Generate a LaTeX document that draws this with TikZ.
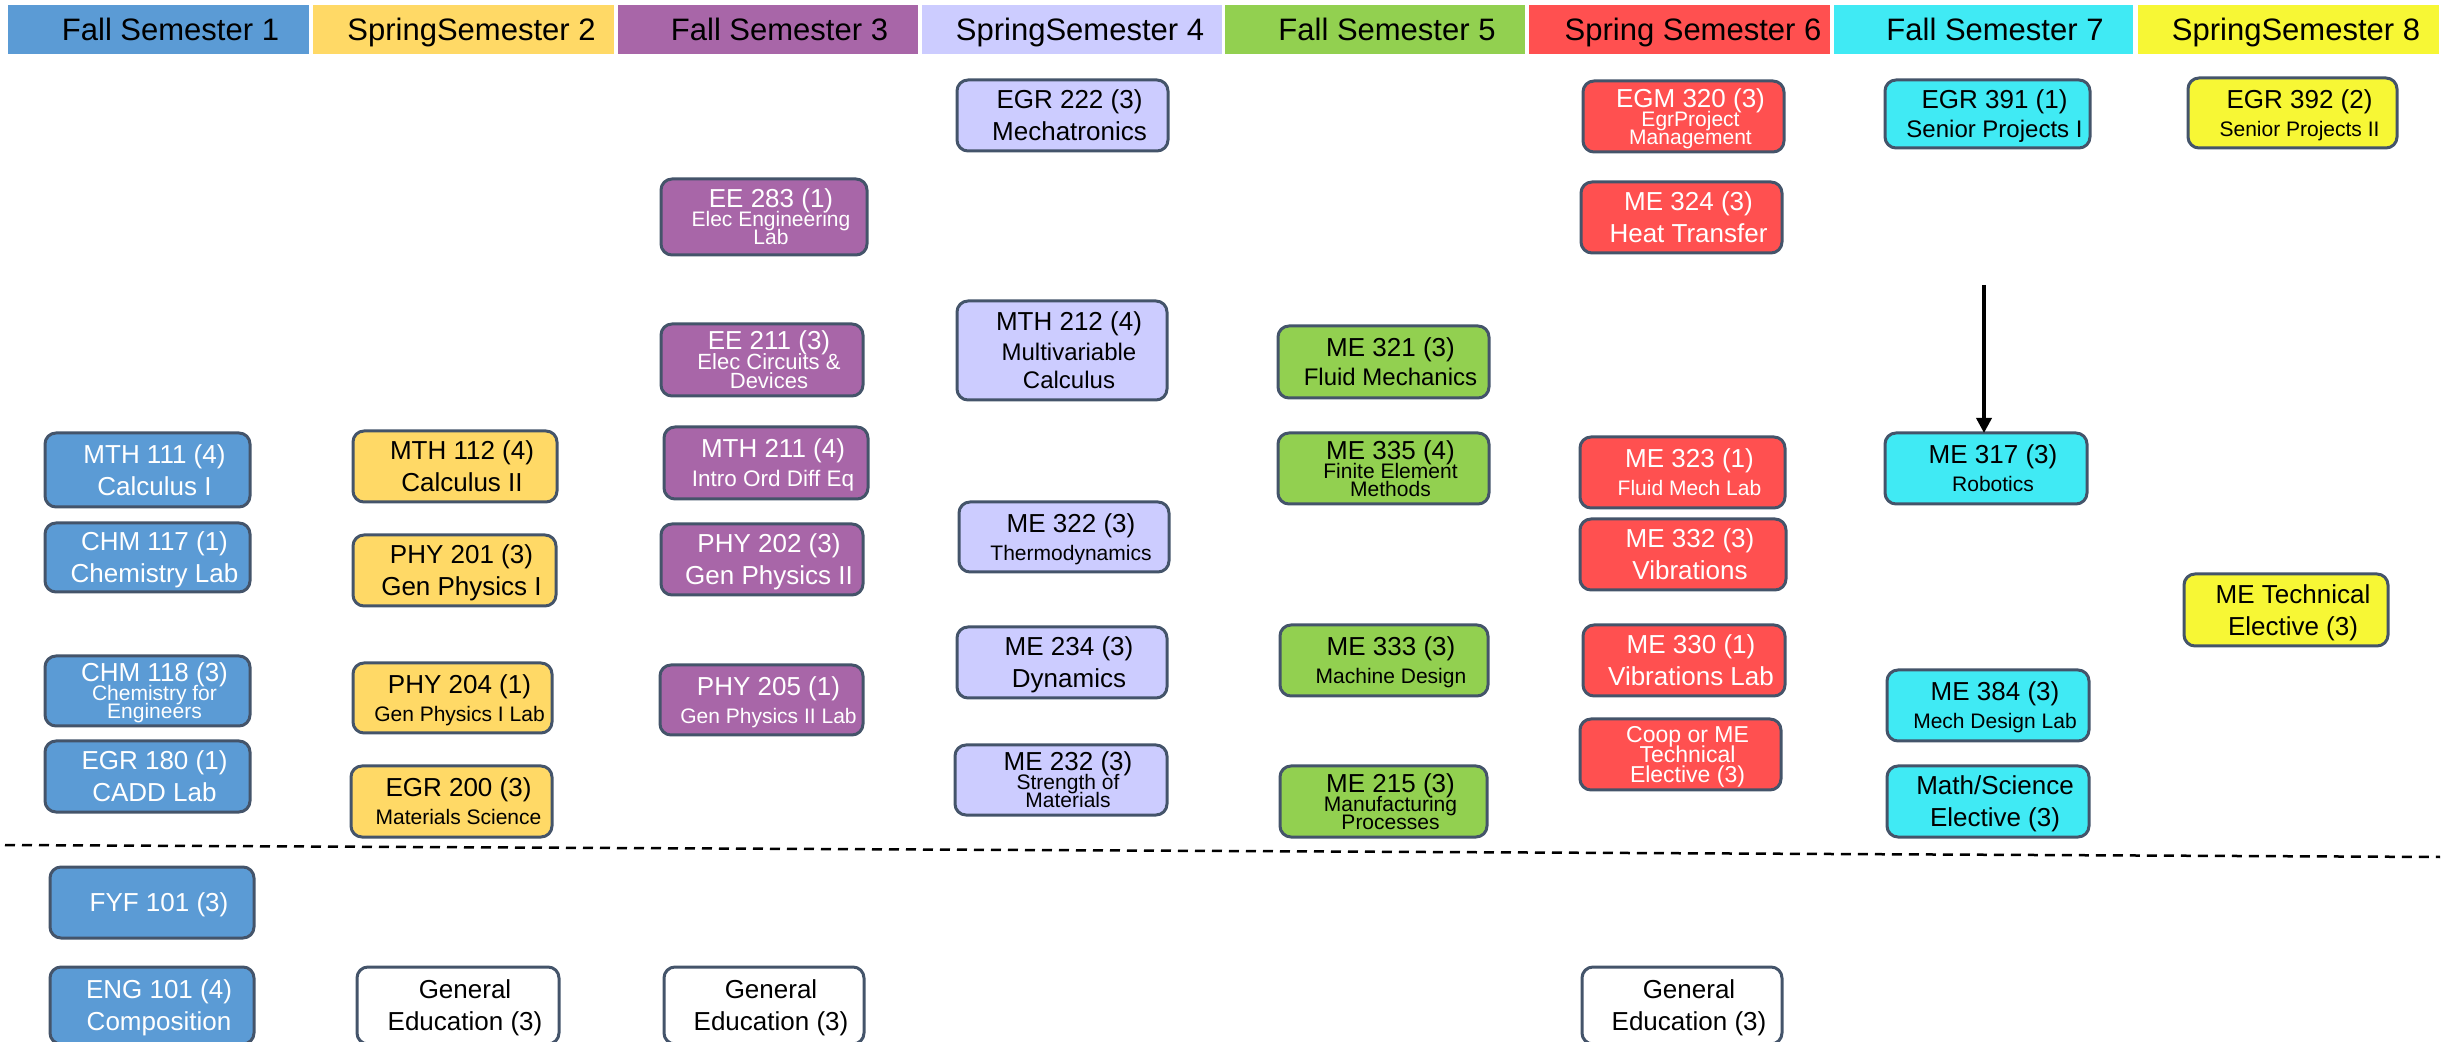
\documentclass[tikz,border=0pt]{standalone}
\usepackage{fontspec}
\setmainfont{Liberation Sans}
\usetikzlibrary{arrows.meta}
\definecolor{cA}{HTML}{5B9BD5}
\definecolor{cB}{HTML}{FFD966}
\definecolor{cC}{HTML}{A866A8}
\definecolor{cD}{HTML}{CCCCFF}
\definecolor{cE}{HTML}{92D050}
\definecolor{cF}{HTML}{FF5050}
\definecolor{cG}{HTML}{40EAF4}
\definecolor{cH}{HTML}{F7F735}
\definecolor{slate}{HTML}{44546A}
\newdimen\txs \txs=7pt
\newcommand\LnA[3]{\baselineskip=#2\relax\hbox to 0pt{\hss\kern\txs\fontsize{#1}{#1}\selectfont\vrule height .716em depth 0pt width 0pt\smash{#3}\hss}}
\newcommand\CBlk[1]{\vbox{\lineskiplimit=-\maxdimen\lineskip=0pt #1}}
\newcommand\CTT[2]{\CBlk{\LnA{13}{0pt}{#1}\LnA{13}{16pt}{#2}}}
\newcommand\CTS[2]{\CBlk{\LnA{13}{0pt}{#1}\LnA{10.5}{14pt}{#2}}}
\newcommand\CTSS[3]{\CBlk{\LnA{13}{0pt}{#1}\LnA{10.5}{9.5pt}{#2}\LnA{10.5}{9pt}{#3}}}
\newcommand\CHd[2]{\CBlk{\txs=#1\LnA{15.5}{0pt}{#2}}}
\tikzset{
  crs/.style={draw=slate, line width=1.5pt, rounded corners=5.5pt, inner sep=0pt, outer sep=0pt},
  bx/.style 2 args={minimum width=#1*0.5pt, minimum height=#2*0.5pt},
  c1/.style={crs, fill=cA, text=white},
  c2/.style={crs, fill=cB, text=black},
  c3/.style={crs, fill=cC, text=white},
  c4/.style={crs, fill=cD, text=black},
  c5/.style={crs, fill=cE, text=black},
  c6/.style={crs, fill=cF, text=white},
  c7/.style={crs, fill=cG, text=black},
  c8/.style={crs, fill=cH, text=black},
  ge/.style={crs, fill=white, text=black},
  hdr/.style={draw=none, inner sep=0pt, outer sep=0pt, text=black, minimum height=49*0.5pt},
  sep/.style={line width=1.25pt, dash pattern=on 5pt off 3.5pt},
  arr/.style={line width=1.75pt, -{Triangle[width=7.5pt,length=7.5pt]}}
}
\begin{document}
\begin{tikzpicture}[x=0.5pt,y=-0.5pt]
\useasboundingbox (0,0) rectangle (2443,1042);
% headers
\node[hdr, fill=cA, minimum width=301*0.5pt] (h1) at (158.5,29.5) {\CHd{12pt}{Fall Semester 1}};
\node[hdr, fill=cB, minimum width=301*0.5pt] (h2) at (463.5,29.5) {\CHd{8pt}{SpringSemester 2}};
\node[hdr, fill=cC, minimum width=300*0.5pt] (h3) at (768,29.5) {\CHd{11.5pt}{Fall Semester 3}};
\node[hdr, fill=cD, minimum width=300*0.5pt] (h4) at (1072,29.5) {\CHd{8pt}{SpringSemester 4}};
\node[hdr, fill=cE, minimum width=300*0.5pt] (h5) at (1375,29.5) {\CHd{12pt}{Fall Semester 5}};
\node[hdr, fill=cF, minimum width=301*0.5pt] (h6) at (1679.5,29.5) {\CHd{13.5pt}{Spring Semester 6}};
\node[hdr, fill=cG, minimum width=299*0.5pt] (h7) at (1983.5,29.5) {\CHd{11.5pt}{Fall Semester 7}};
\node[hdr, fill=cH, minimum width=301*0.5pt] (h8) at (2288.5,29.5) {\CHd{7.5pt}{SpringSemester 8}};
% column 1
\node[c1, bx={205}{74}] (mth111) at (147.5,470) {\CTT{MTH 111 (4)}{Calculus I}};
\node[c1, bx={205}{69}] (chm117) at (147.5,557.5) {\CTT{CHM 117 (1)}{Chemistry Lab}};
\node[c1, bx={205}{70}] (chm118) at (147.5,691) {\CTSS{CHM 118 (3)}{Chemistry for}{Engineers}};
\node[c1, bx={205}{71}] (egr180) at (147.5,776.5) {\CTT{EGR 180 (1)}{CADD Lab}};
\node[c1, bx={204}{71}] (fyf101) at (152,902.5) {\CBlk{\LnA{13}{0pt}{FYF 101 (3)}}};
\node[c1, bx={204}{77}] (eng101) at (152,1005.5) {\CTT{ENG 101 (4)}{Composition}};
% column 2
\node[c2, bx={204}{71}] (mth112) at (455,466.5) {\CTT{MTH 112 (4)}{Calculus II}};
\node[c2, bx={203}{71}] (phy201) at (454.5,570.5) {\CTT{PHY 201 (3)}{Gen Physics I}};
\node[c2, bx={199}{70}] (phy204) at (452.5,698) {\CTS{PHY 204 (1)}{Gen Physics I Lab}};
\node[c2, bx={201}{71}] (egr200) at (451.5,801.5) {\CTS{EGR 200 (3)}{Materials Science}};
\node[ge, bx={202}{77}] (gened1) at (458,1005.5) {\CTT{General}{Education (3)}};
% column 3
\node[c3, bx={206}{76}] (ee283) at (764,217) {\CTSS{EE 283 (1)}{Elec Engineering}{Lab}};
\node[c3, bx={202}{72}] (ee211) at (762,360) {\CBlk{\LnA{13}{0pt}{EE 211 (3)}\LnA{11}{10pt}{Elec Circuits \&}\LnA{11}{9.5pt}{Devices}}};
\node[c3, bx={204}{72}] (mth211) at (766,463) {\CBlk{\LnA{13}{0pt}{MTH 211 (4)}\LnA{11.25}{14.5pt}{Intro Ord Diff Eq}}};
\node[c3, bx={202}{71}] (phy202) at (762,559.5) {\CTT{PHY 202 (3)}{Gen Physics II}};
\node[c3, bx={203}{70}] (phy205) at (761.5,700) {\CTS{PHY 205 (1)}{Gen Physics II Lab}};
\node[ge, bx={200}{77}] (gened2) at (764,1005.5) {\CTT{General}{Education (3)}};
% column 4
\node[c4, bx={211}{71}] (egr222) at (1062.5,115.5) {\CTT{EGR 222 (3)}{Mechatronics}};
\node[c4, bx={210}{99}] (mth212) at (1062,350.5) {\CBlk{\LnA{13}{0pt}{MTH 212 (4)}\LnA{12}{15pt}{Multivariable}\LnA{12}{14pt}{Calculus}}};
\node[c4, bx={210}{70}] (me322) at (1064,537) {\CTS{ME 322 (3)}{Thermodynamics}};
\node[c4, bx={210}{71}] (me234) at (1062,662.5) {\CTT{ME 234 (3)}{Dynamics}};
\node[c4, bx={212}{70}] (me232) at (1061,780) {\CTSS{ME 232 (3)}{Strength of}{Materials}};
% column 5
\node[c5, bx={211}{72}] (me321) at (1383.5,362) {\CBlk{\LnA{13}{0pt}{ME 321 (3)}\LnA{12}{14.5pt}{Fluid Mechanics}}};
\node[c5, bx={211}{71}] (me335) at (1383.5,468.5) {\CTSS{ME 335 (4)}{Finite Element}{Methods}};
\node[c5, bx={208}{71}] (me333) at (1384,660.5) {\CTS{ME 333 (3)}{Machine Design}};
\node[c5, bx={207}{71}] (me215) at (1383.5,801.5) {\CTSS{ME 215 (3)}{Manufacturing}{Processes}};
% column 6
\node[c6, bx={201}{71}] (egm320) at (1683.5,116.5) {\CTSS{EGM 320 (3)}{EgrProject}{Management}};
\node[c6, bx={201}{71}] (me324) at (1681.5,217.5) {\CTT{ME 324 (3)}{Heat Transfer}};
\node[c6, bx={205}{71}] (me323) at (1682.5,472.5) {\CTS{ME 323 (1)}{Fluid Mech Lab}};
\node[c6, bx={206}{71}] (me332) at (1683,554.5) {\CTT{ME 332 (3)}{Vibrations}};
\node[c6, bx={202}{71}] (me330) at (1684,660.5) {\CTT{ME 330 (1)}{Vibrations Lab}};
\node[c6, bx={201}{71}] (coop) at (1680.5,754.5) {\CBlk{\LnA{11.5}{0pt}{Coop or ME}\LnA{11.5}{10pt}{Technical}\LnA{11.5}{10pt}{Elective (3)}}};
\node[ge, bx={200}{77}] (gened3) at (1682,1005.5) {\CTT{General}{Education (3)}};
% column 7
\node[c7, bx={205}{68}] (egr391) at (1987.5,114) {\CBlk{\LnA{13}{0pt}{EGR 391 (1)}\LnA{12}{14.5pt}{Senior Projects I}}};
\node[c7, bx={202}{71}] (me317) at (1986,468.5) {\CTS{ME 317 (3)}{Robotics}};
\node[c7, bx={202}{71}] (me384) at (1988,705.5) {\CTS{ME 384 (3)}{Mech Design Lab}};
\node[c7, bx={202}{71}] (mathsci) at (1988,801.5) {\CTT{Math/Science}{Elective (3)}};
% column 8
\node[c8, bx={209}{70}] (egr392) at (2292.5,113) {\CTS{EGR 392 (2)}{Senior Projects II}};
\node[c8, bx={204}{72}] (metech) at (2286,610) {\CTT{ME Technical}{Elective (3)}};
% arrow
\coordinate (a0) at (1984,285);
\draw[arr] (a0) -- (a0 |- me317.north);
% separator
\coordinate (d0) at (5,845);
\coordinate (d1) at (2440,857);
\draw[sep] (d0) -- (d1);
\end{tikzpicture}
\end{document}
